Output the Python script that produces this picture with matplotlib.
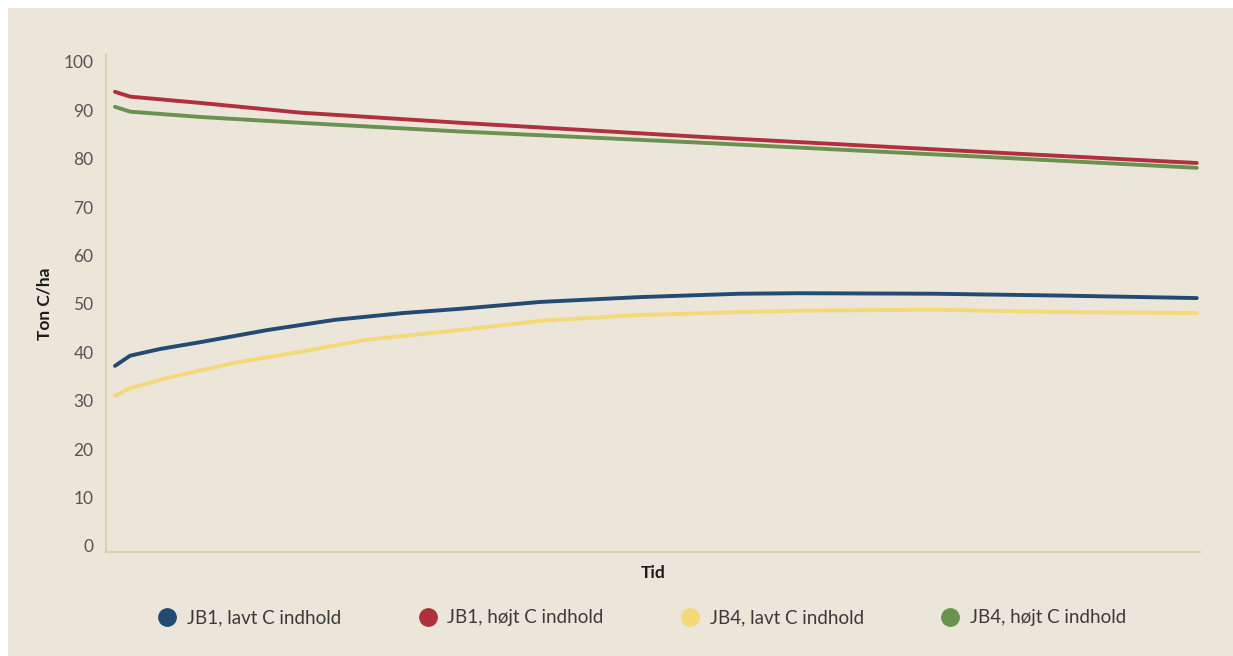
import matplotlib.pyplot as plt
from matplotlib.lines import Line2D
from matplotlib.patches import Rectangle

# Time axis (relative units, start to end of simulation)
t_low = [0, 1.4, 4.2, 7.9, 14.1, 20.3, 26.6, 32.0, 39.3, 48.5, 57.8, 63.3, 75.6, 87.9, 100]
jb1_lavt = [37.2, 39.3, 40.7, 42.1, 44.6, 46.7, 48.1, 49.0, 50.4, 51.4, 52.1, 52.2, 52.1, 51.7, 51.2]

t_yel = [0, 1.4, 4.8, 11.0, 17.1, 23.3, 31.9, 39.3, 48.5, 57.8, 63.3, 75.6, 87.9, 100]
jb4_lavt = [31.0, 32.6, 34.7, 37.8, 40.1, 42.6, 44.6, 46.5, 47.7, 48.3, 48.6, 48.8, 48.3, 48.1]

t_high = [0, 1.4, 7.9, 17.1, 31.9, 54.1, 81.8, 100]
jb1_hojt = [93.8, 92.8, 91.5, 89.5, 87.4, 84.5, 81.2, 79.1]
jb4_hojt = [90.7, 89.7, 88.6, 87.4, 85.6, 83.3, 80.2, 78.1]

labels = ["JB1, lavt C indhold", "JB1, højt C indhold",
          "JB4, lavt C indhold", "JB4, højt C indhold"]
colors = ["#234a73", "#b1303e", "#f3d977", "#6a9150"]
yticks = list(range(0, 101, 10))

bg = "#ebe6d9"
axis_col = "#dccfae"
text_col = "#3a3a3a"

plt.rcParams['font.family'] = ['Lato', 'DejaVu Sans']

fig = plt.figure(figsize=(12.33, 6.56), dpi=100, facecolor="white")
fig.patches.append(Rectangle((8 / 1233, 0), 1 - 8 / 1233, 1 - 8 / 656,
                             transform=fig.transFigure, facecolor=bg,
                             edgecolor="none", zorder=-10))

ax = fig.add_axes([106 / 1233, 1 - 552 / 656, (1200 - 106) / 1233, (552 - 55) / 656])
ax.set_facecolor(bg)
ax.patch.set_alpha(0)

lw = 2.8
ax.plot(t_low, jb1_lavt, color=colors[0], lw=lw, solid_capstyle="round")
ax.plot(t_high, jb1_hojt, color=colors[1], lw=lw, solid_capstyle="round")
ax.plot(t_yel, jb4_lavt, color=colors[2], lw=lw, solid_capstyle="round")
ax.plot(t_high, jb4_hojt, color=colors[3], lw=lw, solid_capstyle="round")

ax.set_xlim(-0.83, 100.3)
ax.set_ylim(-1.24, 101.4)
ax.set_yticks(yticks)
ax.set_yticklabels([str(v) for v in yticks], fontsize=12.5, color="#555555")
ax.set_xticks([])
ax.tick_params(axis="y", length=0, pad=9)

for side in ("top", "right"):
    ax.spines[side].set_visible(False)
for side in ("left", "bottom"):
    ax.spines[side].set_color(axis_col)
    ax.spines[side].set_linewidth(1.5)

ax.set_ylabel("Ton C/ha", fontsize=12.5, fontweight="bold", color="#1a1a1a", labelpad=8)
ax.set_xlabel("Tid", fontsize=12.5, fontweight="bold", color="#1a1a1a", labelpad=9)

handles = [Line2D([0], [0], marker="o", linestyle="none", markersize=12.5,
                  markerfacecolor=c, markeredgecolor=c) for c in colors]
leg = fig.legend(handles, labels, loc="center", bbox_to_anchor=(641 / 1233, 1 - 618 / 656),
                 ncol=4, frameon=False, fontsize=13.5, handlelength=1.2,
                 handletextpad=0.45, columnspacing=4.0, labelcolor=text_col)

fig.savefig("out.png", dpi=100, facecolor="white")
